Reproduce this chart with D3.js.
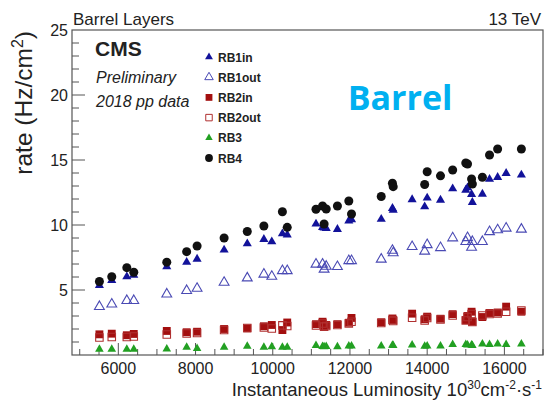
<!DOCTYPE html>
<html lang="en">
<head>
<meta charset="UTF-8">
<title>Barrel Layers</title>
<style>
    body { margin: 0; background: #fff; }
    svg text { font-family: 'Liberation Sans', Arial, sans-serif; fill: #222; }
</style>
<script src="https://d3js.org/d3.v7.min.js"></script>
</head>
<body>
<svg width="551" height="401"></svg>
<script>
// luminosity of each run (10^30 cm^-2 s^-1)
const lumi = [5510, 5830, 6220, 6400, 7255, 7770, 8040, 8740, 9340, 9770, 9975, 10250, 10375,
    11120, 11290, 11330, 11385, 11675, 11970, 12040, 12810, 13100, 13120, 13610, 13935, 14000,
    14345, 14660, 15000, 15045, 15150, 15170, 15430, 15615, 15825, 16045, 16440];

// rates in Hz/cm2 (null = not visible)
const rb1in = [5.36, 5.75, 6.02, 6.15, 6.79, 7.14, 7.38, 8.08, 8.56, 8.90, 8.72, 9.33, 9.25,
    10.08, 9.82, 9.78, 9.75, 9.67, 10.32, 10.42, 10.45, 11.28, 11.15, 11.96, 11.41, 12.08,
    11.92, 12.79, 12.69, 12.87, 12.36, 11.75, 12.38, 13.52, 13.67, 13.98, 13.85];
const rb1out = [3.72, 3.91, 4.18, 4.18, 4.68, 4.95, 5.12, 5.58, 5.92, 6.21, 6.04, 6.48, 6.48,
    6.98, 6.98, 6.59, 6.82, 6.79, 7.25, 7.25, 7.36, 8.04, 7.85, 8.33, 7.98, 8.48,
    8.25, 9.00, 8.72, 9.02, 8.28, 8.72, 8.72, 9.48, 9.62, 9.75, 9.67];
const rb2in = [1.59, 1.64, 1.52, 1.62, 1.85, 1.75, 1.79, 2.00, 2.05, 2.21, 2.31, 1.92, 2.50,
    2.37, 2.56, 2.23, 2.31, 2.37, 2.48, 2.85, 2.52, 2.81, 2.69, 3.18, 2.75, 2.95,
    2.79, 3.14, 2.69, 3.00, 3.33, 2.56, 2.92, 3.23, 3.27, 3.72, 3.33];
const rb2out = [1.35, 1.38, 1.38, 1.42, 1.58, 1.65, 1.69, 1.92, 2.08, 2.12, 2.04, 2.28, 2.23,
    2.27, 2.42, 2.18, 2.23, 2.31, 2.42, 2.56, 2.46, 2.69, 2.62, 2.87, 2.65, 2.85,
    2.73, 3.04, 2.65, 2.92, 3.15, 2.54, 3.04, 3.15, 3.19, 3.33, 3.42];
const rb3 = [0.44, 0.44, 0.44, 0.44, 0.46, 0.59, 0.50, 0.59, 0.67, 0.59, 0.64, 0.59, 0.59,
    0.73, 0.65, 0.64, 0.65, 0.64, 0.69, 0.69, 0.69, 0.75, 0.73, 0.77, 0.67, 0.69,
    0.69, 0.81, 0.81, 0.77, 0.77, 0.73, 0.85, 0.81, 0.85, 0.81, 0.85];
const rb4 = [5.65, 6.02, 6.72, 6.37, 7.14, 7.95, 8.38, 9.00, 9.50, 9.92, null, 11.02, 9.82,
    11.21, 11.46, 10.08, 11.23, 11.46, 11.85, 10.85, 12.19, 13.21, 12.95, null, 13.12, 14.10,
    13.78, 14.23, 14.77, 14.69, 13.54, 13.15, 13.67, 15.38, 15.85, null, 15.85];

const xTicks = [6000, 8000, 10000, 12000, 14000, 16000];
const yTicks = [5, 10, 15, 20, 25];

// marker styles per series
const series = [
    { name: "RB1in",  values: rb1in,  shape: d3.symbolTriangle, size: 36, fill: "#12129a", stroke: "none" },
    { name: "RB1out", values: rb1out, shape: d3.symbolTriangle, size: 42, fill: "none", stroke: "#4a4ab4" },
    { name: "RB2in",  values: rb2in,  shape: d3.symbolSquare,   size: 62, fill: "#a30f0f", stroke: "none" },
    { name: "RB2out", values: rb2out, shape: d3.symbolSquare,   size: 56, fill: "none", stroke: "#b03030" },
    { name: "RB3",    values: rb3,    shape: d3.symbolTriangle, size: 32, fill: "#22a022", stroke: "none" },
    { name: "RB4",    values: rb4,    shape: d3.symbolCircle,   size: 64, fill: "#111", stroke: "none" }
];

const svg = d3.select("svg");
const pLeft = 72, pRight = 543, pTop = 30, pBottom = 355;

const x = d3.scaleLinear().domain([4800, 17000]).range([pLeft, pRight]);
const y = d3.scaleLinear().domain([0, 25]).range([pBottom, pTop]);

const frameColor = "#555";

// ticks (ROOT style, pointing inwards)
const xMinor = d3.range(5000, 17001, 500);
svg.append("g").selectAll("line").data(xMinor).enter().append("line")
    .attr("x1", d => x(d)).attr("x2", d => x(d))
    .attr("y1", pBottom)
    .attr("y2", d => pBottom - (d % 2000 === 0 ? 12 : 6))
    .attr("stroke", frameColor).attr("stroke-width", 1);

const yMinor = d3.range(1, 25, 1);
svg.append("g").selectAll("line").data(yMinor).enter().append("line")
    .attr("y1", d => y(d)).attr("y2", d => y(d))
    .attr("x1", pLeft)
    .attr("x2", d => pLeft + (d % 5 === 0 ? 13 : 7))
    .attr("stroke", frameColor).attr("stroke-width", 1);

svg.append("rect")
    .attr("x", pLeft).attr("y", pTop)
    .attr("width", pRight - pLeft).attr("height", pBottom - pTop)
    .attr("fill", "none").attr("stroke", frameColor).attr("stroke-width", 1.2);

// tick labels
svg.append("g").selectAll("text").data(xTicks).enter().append("text")
    .attr("x", d => x(d)).attr("y", pBottom + 19)
    .attr("text-anchor", "middle")
    .style("font-size", "16px")
    .text(d => d);

svg.append("g").selectAll("text").data(yTicks).enter().append("text")
    .attr("x", pLeft - 4).attr("y", d => y(d) + 6)
    .attr("text-anchor", "end")
    .style("font-size", "16px")
    .text(d => d);

// axis titles
const xl = svg.append("text")
    .attr("x", pRight - 1).attr("y", 396)
    .attr("text-anchor", "end")
    .style("font-size", "18.5px");
xl.append("tspan").text("Instantaneous Luminosity 10");
xl.append("tspan").attr("dy", -7).style("font-size", "12px").text("30");
xl.append("tspan").attr("dy", 7).text("cm");
xl.append("tspan").attr("dy", -7).style("font-size", "12px").text("-2");
xl.append("tspan").attr("dy", 7).text("\u00b7s");
xl.append("tspan").attr("dy", -7).style("font-size", "12px").text("-1");

const yl = svg.append("text")
    .attr("transform", `translate(32, ${pTop + 1}) rotate(-90)`)
    .attr("text-anchor", "end")
    .style("font-size", "24.5px");
yl.append("tspan").text("rate (Hz/cm");
yl.append("tspan").attr("dy", -9).style("font-size", "16px").text("2");
yl.append("tspan").attr("dy", 9).text(")");

// header texts
svg.append("text").attr("x", pLeft + 1).attr("y", 25).style("font-size", "17px").text("Barrel Layers");
svg.append("text").attr("x", pRight - 2).attr("y", 25).attr("text-anchor", "end").style("font-size", "17px").text("13 TeV");

svg.append("text").attr("x", 95).attr("y", 56)
    .style("font-size", "21px").style("font-weight", "700").text("CMS");
svg.append("text").attr("x", 96).attr("y", 83)
    .style("font-size", "16px").style("font-style", "italic").text("Preliminary");
svg.append("text").attr("x", 96).attr("y", 107)
    .style("font-size", "16px").style("font-style", "italic").text("2018 pp data");

svg.append("text").attr("x", 400).attr("y", 110)
    .attr("text-anchor", "middle")
    .style("font-family", "'Open Sans', sans-serif")
    .style("font-size", "34px").style("font-weight", "700")
    .style("fill", "#00b0f0")
    .text("Barrel");

// data markers
series.forEach(s => {
    const pts = lumi.map((l, i) => [l, s.values[i]]).filter(p => p[1] !== null);
    svg.append("g").selectAll("path").data(pts).enter().append("path")
        .attr("transform", d => `translate(${x(d[0])}, ${y(d[1])})`)
        .attr("d", d3.symbol().type(s.shape).size(s.size))
        .attr("fill", s.fill)
        .attr("stroke", s.stroke)
        .attr("stroke-width", 1.1);
});

// legend
const legend = svg.append("g").selectAll("g").data(series).enter().append("g")
    .attr("transform", (d, i) => `translate(209, ${57 + i * 20.2})`);
legend.append("path")
    .attr("d", d => d3.symbol().type(d.shape).size(d.size * 0.75)())
    .attr("fill", d => d.fill)
    .attr("stroke", d => d.stroke)
    .attr("stroke-width", 1);
legend.append("text")
    .attr("x", 9).attr("y", 4.5)
    .style("font-size", "12px").style("font-weight", "700")
    .text(d => d.name);
</script>
</body>
</html>
